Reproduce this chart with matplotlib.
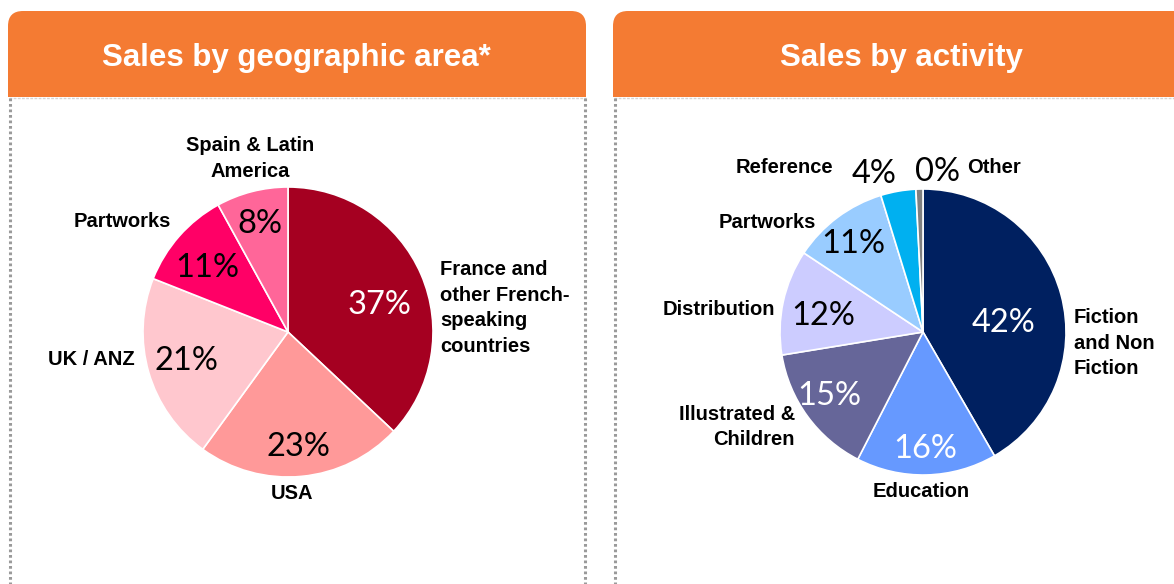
import matplotlib
matplotlib.use("Agg")
import matplotlib.pyplot as plt
from matplotlib.patches import FancyBboxPatch, Rectangle

# ---------------- data ----------------
geo_categories = ["France and\nother French-\nspeaking\ncountries", "USA", "UK / ANZ",
                  "Partworks", "Spain & Latin\nAmerica"]
geo_values = [37, 23, 21, 11, 8]
geo_pct_labels = ["37%", "23%", "21%", "11%", "8%"]
geo_colors = ["#A50021", "#FF9999", "#FFC7CE", "#FF0066", "#FF6699"]
geo_pct_colors = ["white", "black", "black", "black", "black"]

act_categories = ["Fiction\nand Non\nFiction", "Education", "Illustrated &\nChildren",
                  "Distribution", "Partworks", "Reference", "Other"]
act_values = [42, 16, 15, 12, 11, 4, 0.8]
act_pct_labels = ["42%", "16%", "15%", "12%", "11%", "4%", "0%"]
act_colors = ["#002060", "#6699FF", "#666699", "#CCCCFF", "#99CCFF", "#00B0F0", "#808080"]
act_pct_colors = ["white", "white", "white", "black", "black", "black", "black"]

titles = ["Sales by geographic area*", "Sales by activity"]

# ---------------- layout (text placement in pie-radius units) ----------------
geo_pct_pos = [(0.628, 0.186), (0.069, -0.793), (-0.703, -0.20), (-0.559, 0.441), (-0.193, 0.745)]
geo_lab_pos = [(1.05, 0.166, "left"), (0.03, -1.117, "center"), (-1.055, -0.193, "right"),
               (-0.807, 0.759, "right"), (-0.262, 1.197, "center")]
act_pct_pos = [(0.566, 0.063), (0.014, -0.818), (-0.657, -0.448), (-0.699, 0.112),
               (-0.490, 0.615), (-0.343, 1.105), (0.098, 1.119)]
act_lab_pos = [(1.056, -0.077, "left"), (-0.014, -1.112, "center"), (-0.895, -0.664, "right"),
               (-1.035, 0.154, "right"), (-0.748, 0.769, "right"), (-0.629, 1.147, "right"),
               (0.308, 1.147, "left")]

W, H = 1174, 584
fig = plt.figure(figsize=(W / 100, H / 100), dpi=100)
fig.patch.set_facecolor("white")

bg = fig.add_axes([0, 0, 1, 1])
bg.set_xlim(0, W)
bg.set_ylim(H, 0)
bg.axis("off")

ORANGE = "#F47B33"
panels = [(8, 586, 296), (613, 1190, 901)]
for (x0, x1, tx), title in zip(panels, titles):
    bg.add_patch(FancyBboxPatch((x0, 11), x1 - x0, 50,
                                boxstyle="round,pad=0,rounding_size=15",
                                fc=ORANGE, ec="none"))
    bg.add_patch(Rectangle((x0, 40), x1 - x0, 57, fc=ORANGE, ec="none"))
    bg.text(tx, 58, title, color="white", fontsize=22.5, fontweight="bold",
            family="Liberation Sans", ha="center", va="center")
    bg.plot([x0 + 1, x1], [98, 98], color="#d5d5d5", lw=1, ls=(0, (2, 1)))

for x in (9.5, 584.5, 614.5):
    bg.plot([x, x], [98, H], color="#9a9a9a", lw=2.2, ls=(0, (0.9, 0.9)))


def draw_pie(cx, cy, r, values, colors, pct_labels, pct_colors, pct_pos, cats, lab_pos):
    ax = fig.add_axes([(cx - r) / W, (H - cy - r) / H, 2 * r / W, 2 * r / H])
    ax.pie(values, colors=colors, startangle=90, counterclock=False,
           wedgeprops=dict(edgecolor="white", linewidth=1.2))
    ax.set_xlim(-1, 1)
    ax.set_ylim(-1, 1)
    ax.set_aspect("equal")
    ax.axis("off")
    for lab, col, (px, py) in zip(pct_labels, pct_colors, pct_pos):
        ax.text(px, py, lab, color=col, fontsize=23.5, family="Lato",
                ha="center", va="center")
    for cat, (lx, ly, ha) in zip(cats, lab_pos):
        ax.text(lx, ly, cat, color="black", fontsize=14.5, fontweight="bold",
                family="Liberation Sans", ha=ha, va="center", linespacing=1.45,
                multialignment=ha)


draw_pie(288, 332, 145, geo_values, geo_colors, geo_pct_labels, geo_pct_colors,
         geo_pct_pos, geo_categories, geo_lab_pos)
draw_pie(923, 332, 143, act_values, act_colors, act_pct_labels, act_pct_colors,
         act_pct_pos, act_categories, act_lab_pos)

fig.savefig("out.png", dpi=100, facecolor="white")
